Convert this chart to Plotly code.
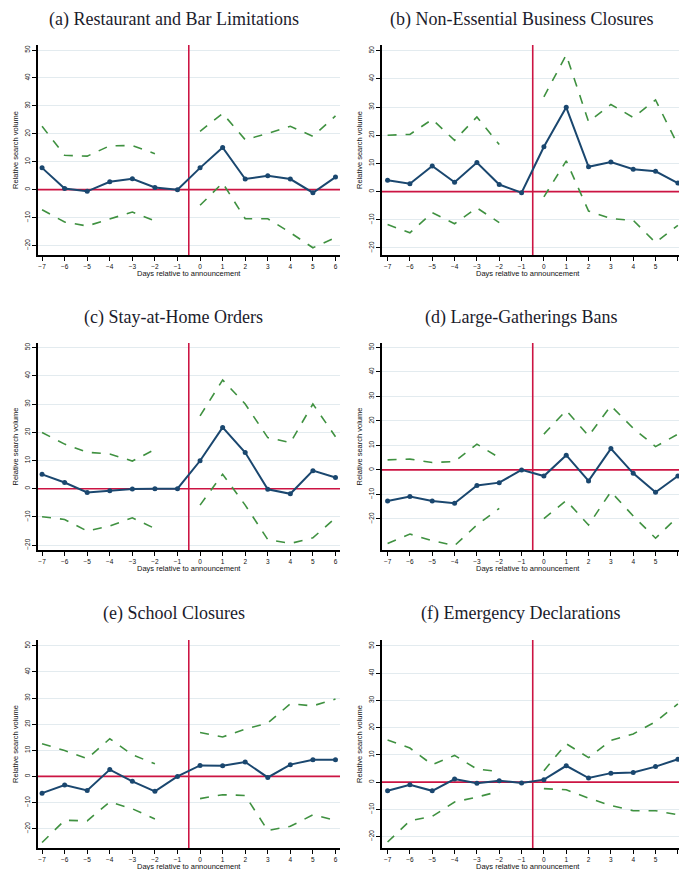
import plotly.graph_objects as go

# ---------------- data ----------------
days = [-7, -6, -5, -4, -3, -2, -1, 0, 1, 2, 3, 4, 5, 6]
y_ticks = [-20, -10, 0, 10, 20, 30, 40, 50]

titles = [
    "(a) Restaurant and Bar Limitations",
    "(b) Non-Essential Business Closures",
    "(c) Stay-at-Home Orders",
    "(d) Large-Gatherings Bans",
    "(e) School Closures",
    "(f) Emergency Declarations",
]
x_title = "Days relative to announcement"
y_title = "Relative search volume"

est_a = [7.8, 0.4, -0.6, 2.8, 3.9, 0.8, 0.0, 7.8, 15.1, 3.8, 5.0, 3.8, -1.1, 4.5]
up_a = [22.7, 12.3, 12.0, 15.7, 15.8, 12.9, None, 20.9, 27.3, 17.9, 20.1, 22.7, 19.1, 26.4]
lo_a = [-7.2, -11.6, -13.0, -10.4, -8.0, -11.2, None, -5.6, 2.4, -10.4, -10.4, -15.4, -20.8, -17.2]

est_b = [4.0, 2.8, 9.1, 3.3, 10.3, 2.5, -0.4, 15.9, 29.9, 8.8, 10.5, 7.9, 7.2, 3.0]
up_b = [20.0, 20.3, 25.6, 18.2, 26.5, 16.7, None, 33.6, 48.5, 24.8, 30.9, 26.3, 32.5, 16.5]
lo_b = [-11.7, -14.6, -7.5, -11.4, -5.8, -11.0, None, -1.9, 10.9, -6.9, -9.6, -10.2, -18.1, -12.0]

est_c = [5.1, 2.2, -1.3, -0.7, -0.1, 0.0, 0.0, 9.9, 21.7, 12.8, -0.2, -1.8, 6.4, 4.0]
up_c = [19.9, 15.8, 12.9, 12.3, 9.8, 13.9, None, 25.8, 38.5, 30.0, 18.1, 16.3, 30.0, 18.4]
lo_c = [-9.9, -10.9, -15.0, -13.2, -10.3, -14.1, None, -5.8, 5.1, -5.8, -18.0, -19.4, -17.4, -10.3]

est_d = [-12.7, -10.9, -12.7, -13.6, -6.4, -5.2, 0.0, -2.5, 6.0, -4.5, 8.7, -1.4, -9.1, -2.5]
up_d = [4.1, 4.4, 3.0, 3.4, 10.5, 5.0, None, 14.6, 24.3, 13.9, 26.2, 17.0, 9.5, 14.6]
lo_d = [-30.0, -26.2, -28.9, -30.9, -22.5, -15.7, None, -19.9, -12.5, -22.5, -8.9, -18.8, -27.9, -19.1]

est_e = [-6.4, -3.3, -5.4, 2.6, -1.9, -5.7, 0.0, 4.2, 4.1, 5.5, -0.4, 4.5, 6.4, 6.4]
up_e = [12.5, 9.9, 6.8, 14.4, 8.3, 4.8, None, 16.8, 15.1, 18.1, 20.4, 27.8, 27.0, 29.6]
lo_e = [-25.3, -16.8, -17.0, -9.8, -12.4, -16.3, None, -8.5, -7.0, -7.3, -20.7, -19.1, -14.7, -16.8]

est_f = [-3.2, -1.0, -3.2, 1.1, -0.4, 0.5, -0.3, 0.9, 6.0, 1.5, 3.3, 3.5, 5.7, 8.4]
up_f = [15.5, 12.5, 6.4, 9.8, 4.8, 3.9, None, 4.2, 14.1, 9.0, 15.3, 17.7, 22.2, 28.7]
lo_f = [-22.0, -14.2, -12.6, -7.3, -5.5, -3.4, None, -2.4, -2.8, -5.9, -8.6, -10.5, -10.5, -12.0]

estimates = [est_a, est_b, est_c, est_d, est_e, est_f]
uppers = [up_a, up_b, up_c, up_d, up_e, up_f]
lowers = [lo_a, lo_b, lo_c, lo_d, lo_e, lo_f]

event_line_x = -0.5
zero_line_y = 0

# ---------------- layout geometry (pixels) ----------------
W, H = 679, 870
col_px = [(38, 340), (382, 679)]
row_px = [(45, 255), (343, 550), (640, 848)]
title_y_px = [20, 317, 613]
title_x_px = [174, 521]
x_ranges = [[-7.18, 6.2], [-7.25, 6.05]]
y_ranges = [[-23.4, 51.8], [-22.5, 52.0], [-21.7, 51.6], [-32.7, 51.8], [-27.4, 52.2], [-24.2, 52.2]]

NAVY = "#1a476f"
GREEN = "#3f9140"
RED = "#cc1443"
GRID = "#e3ebef"

fig = go.Figure()
annotations = []

for i in range(6):
    r, c = divmod(i, 2)
    n = i + 1
    xa = "x" if n == 1 else f"x{n}"
    ya = "y" if n == 1 else f"y{n}"
    x0, x1 = col_px[c]
    top, bot = row_px[r]
    xdom = [x0 / W, min(x1 / W, 1.0)]
    ydom = [1 - bot / H, 1 - top / H]

    # reference lines (event time and zero), spanning the full axes
    fig.add_trace(go.Scatter(
        x=[event_line_x, event_line_x], y=y_ranges[i], mode="lines",
        xaxis=xa, yaxis=ya, line=dict(color=RED, width=1.6),
        showlegend=False, hoverinfo="skip", cliponaxis=True))
    fig.add_trace(go.Scatter(
        x=x_ranges[c], y=[zero_line_y, zero_line_y], mode="lines",
        xaxis=xa, yaxis=ya, line=dict(color=RED, width=1.6),
        showlegend=False, hoverinfo="skip", cliponaxis=True))

    for band in (uppers[i], lowers[i]):
        fig.add_trace(go.Scatter(
            x=days, y=band, mode="lines", xaxis=xa, yaxis=ya,
            line=dict(color=GREEN, width=1.6, dash="dash"),
            connectgaps=False, showlegend=False, hoverinfo="skip"))
    fig.add_trace(go.Scatter(
        x=days, y=estimates[i], mode="lines+markers", xaxis=xa, yaxis=ya,
        line=dict(color=NAVY, width=2),
        marker=dict(color=NAVY, size=5, symbol="circle"),
        showlegend=False))

    axis_common = dict(
        showline=True, linecolor="black", linewidth=1.6,
        ticks="outside", ticklen=4, tickwidth=1.2, tickcolor="black",
        tickfont=dict(family="Liberation Sans", size=6.5, color="#111"),
        zeroline=False,
    )
    fig.update_layout(**{
        ("xaxis" if n == 1 else f"xaxis{n}"): dict(
            domain=xdom, anchor=ya, range=x_ranges[c],
            tickmode="array", tickvals=days, showgrid=False, **axis_common),
        ("yaxis" if n == 1 else f"yaxis{n}"): dict(
            domain=ydom, anchor=xa, range=y_ranges[i],
            tickmode="array", tickvals=y_ticks, tickangle=-90,
            showgrid=True, gridcolor=GRID, gridwidth=1, **axis_common),
    })

    annotations.append(dict(
        text=titles[i], xref="paper", yref="paper",
        x=title_x_px[c] / W, y=1 - title_y_px[r] / H,
        showarrow=False, xanchor="center", yanchor="middle",
        font=dict(family="Liberation Serif", size=18, color="#1c1c2c")))
    annotations.append(dict(
        text=x_title, xref="paper", yref="paper",
        x=((x0 + 340) / 2 if c == 0 else (x0 + 679) / 2 - 3) / W,
        y=1 - (bot + 18) / H,
        showarrow=False, xanchor="center", yanchor="middle",
        font=dict(family="Liberation Sans", size=7.5, color="#111")))
    annotations.append(dict(
        text=y_title, xref="paper", yref="paper",
        x=(x0 - 23) / W, y=1 - ((top + bot) / 2) / H, textangle=-90,
        showarrow=False, xanchor="center", yanchor="middle",
        font=dict(family="Liberation Sans", size=7.5, color="#111")))

fig.update_layout(
    width=W, height=H,
    margin=dict(l=0, r=0, t=0, b=0),
    paper_bgcolor="white", plot_bgcolor="white",
    annotations=annotations,
    showlegend=False,
)

fig.write_html("out.html")
